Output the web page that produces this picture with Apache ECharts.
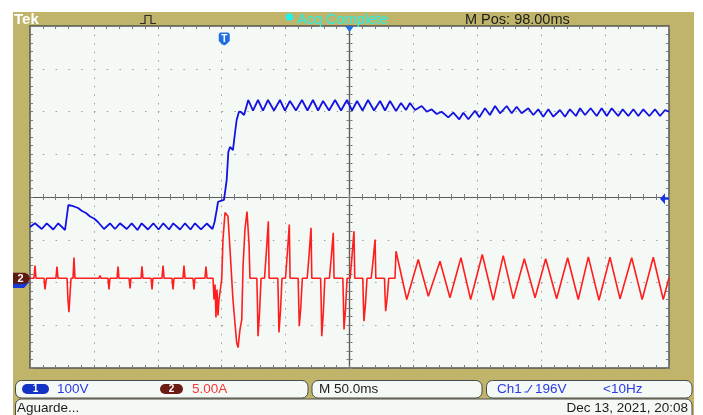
<!DOCTYPE html>
<html>
<head>
<meta charset="utf-8">
<script src="https://cdn.jsdelivr.net/npm/echarts@6/dist/echarts.min.js"></script>
<style>
  html, body { margin: 0; padding: 0; background: #fff; }
  #scope { width: 703px; height: 415px; }
</style>
</head>
<body>
<div id="scope"></div>
<script>
// ---- Acquisition settings ----
const msPerDiv = 50;             // M 50.0ms
const screenMs = [0, 500];       // 10 divisions across
const ch1VoltsPerDiv = 100;      // Ch1 100V
const ch2AmpsPerDiv = 5;         // Ch2 5.00A
const ch1GroundDiv = -2.0;       // ground reference of Ch1 (divisions from centre)
const ch2GroundDiv = -1.9;       // ground reference of Ch2
const triggerTime = 152;         // ms from left edge (M Pos 98.00ms before centre)
const triggerLevel = 196;        // V on Ch1

// ---- Ch1: voltage, [ms, V] ----
const ch1Trace = [
  [0,129.8],[3.9,138.5],[9.2,125.1],[13.1,138.5],[18.2,124.0],[22.1,138.5],[27.4,122.8],
  [30.0,181.3],[31.3,183.6],[34.4,177.8],[37.6,174.3],[40.7,167.3],[43.8,162.6],[47.0,154.4],
  [50.1,149.7],[53.2,141.5],[57.9,125.1],[62.6,138.5],[66.5,125.1],[70.4,138.5],[75.7,125.1],
  [79.6,138.5],[84.1,122.8],[87.4,138.5],[92.3,124.0],[96.5,138.5],[100.6,124.0],[104.3,138.5],
  [108.8,124.0],[112.1,138.5],[117.4,124.0],[121.3,138.5],[125.6,124.0],[129.1,138.5],
  [133.8,124.0],[138.3,138.0],[142.8,125.1],[144.4,141.5],[146.1,169.6],[147.1,188.3],
  [148.7,190.6],[151.8,193.0],[153.9,239.8],[155.2,305.3],[156.5,317.0],[158.8,309.9],
  [160.4,349.7],[161.7,380.1],[163.5,399.5],[165.1,398.8],[167.5,391.8],[170.8,426.9],
  [174.5,402.3],[178.4,426.9],[182.3,402.3],[186.2,426.9],[190.9,402.3],[195.6,426.9],
  [199.5,402.3],[203.4,424.6],[208.1,402.3],[212.8,426.9],[217.1,402.3],[221.4,426.9],
  [225.4,402.3],[229.3,424.6],[234.0,402.3],[238.7,426.9],[243.4,402.3],[248.0,426.9],
  [252.0,402.3],[255.9,424.6],[260.2,402.3],[264.5,426.9],[269.2,402.3],[273.9,424.6],
  [277.8,402.3],[281.7,424.6],[286.4,401.2],[290.3,419.9],[294.2,403.5],[297.3,419.9],
  [301.3,403.5],[306.5,412.9],[310.4,399.5],[314.3,405.1],[318.2,394.2],[322.1,399.5],
  [327.3,386.4],[331.2,397.2],[335.9,381.8],[339.1,397.2],[343.0,381.8],[348.2,401.9],
  [351.6,386.4],[356.0,407.5],[359.9,391.8],[363.9,412.9],[367.8,395.8],[373.0,412.9],
  [376.9,395.8],[380.8,411.2],[384.7,395.8],[389.9,407.5],[393.8,391.8],[397.7,405.1],
  [401.6,387.8],[405.6,405.1],[409.5,387.8],[414.7,403.5],[418.6,387.8],[422.5,405.1],
  [427.2,389.5],[430.4,407.5],[434.3,391.8],[438.7,407.5],[443.4,389.5],[447.3,407.5],
  [451.3,389.5],[455.2,407.5],[460.3,389.5],[463.8,405.1],[468.2,389.5],[472.1,405.1],
  [476.0,389.5],[479.9,405.1],[484.6,389.5],[489.0,405.1],[493.0,389.5],[496.9,403.5],
  [500,399.5]
];

// ---- Ch2: current, [ms, A] ----
const ch2Trace = [
  [0,0],[3.1,0],[3.9,1.49],[4.7,0],[11.0,0],[11.7,-1.32],[12.9,0],[20.3,0],[21.1,1.37],[21.9,0],
  [29.0,0],[29.7,-2.49],[30.5,-3.98],[31.3,-1.91],[32.1,0],[33.7,0],[34.4,2.42],[35.2,0],
  [54.0,0],[54.8,0.32],[55.6,0],[61.0,0],[61.8,-1.32],[62.6,0],[68.1,0],[68.9,1.37],[69.6,0],
  [77.5,0],[78.3,-1.20],[79.0,0],[86.9,0],[87.6,1.40],[88.4,0],[94.7,0],[95.5,-1.32],[96.2,0],
  [103.3,0],[104.1,1.49],[104.9,0],[111.1,0],[111.9,-1.32],[112.7,0],[119.7,0],[120.5,1.49],
  [121.3,0],[127.5,0],[128.3,-1.32],[129.1,0],[136.9,0],[137.7,1.37],[138.5,0],[143.2,0],
  [144.0,-2.49],[144.8,-0.74],[145.5,-4.60],[146.3,-1.32],[147.1,-4.36],[147.9,-2.49],
  [150.0,-0.15],[151.0,4.53],[152.6,7.68],[154.9,7.25],[156.5,3.36],[158.8,-2.49],
  [161.7,-7.52],[162.8,-8.11],[164.3,-6.00],[165.7,-4.83],[166.7,1.40],[168.2,5.70],
  [169.8,7.80],[170.6,7.84],[171.4,3.94],[172.1,0],
  [177.5,0],[177.9,-2.5],[178.4,-6.78],[179.6,-4.1],[180.8,0],
  [183.5,0],[184.9,3.0],[186.5,6.67],[187.1,0],
  [193.9,0],[194.3,-2.5],[194.8,-6.35],[196.0,-3.8],[197.2,0],
  [199.9,0],[201.3,2.8],[202.9,6.28],[203.5,0],
  [209.8,0],[210.2,-2.5],[210.7,-5.61],[211.9,-3.4],[213.1,0],
  [216.9,0],[218.3,2.6],[219.9,5.89],[220.5,0],
  [227.4,0],[227.8,-2.5],[228.3,-6.78],[229.5,-4.1],[230.7,0],
  [234.3,0],[235.7,2.4],[237.3,5.31],[237.9,0],
  [244.8,0],[245.2,-2.5],[245.7,-6.00],[246.9,-3.6],[248.1,0],
  [250.5,0],[251.9,2.5],[253.5,5.50],[254.1,0],
  [260.4,0],[260.8,-2.5],[261.3,-5.03],[262.5,-3.0],[263.7,0],
  [267.0,0],[268.4,2.0],[270.0,4.53],[270.6,0],
  [277.4,0],[277.8,-2.0],[278.3,-3.86],[279.5,-2.3],[280.7,0],
  [285.6,0],[286.4,3.16],[294.8,-2.49],[303.8,2.19],[311.7,-2.11],[320.8,1.99],[328.6,-2.29],
  [337.2,2.39],[344.8,-2.49],[353.9,2.77],[362.5,-2.57],[370.3,2.65],[378.2,-2.41],
  [386.8,2.27],[395.2,-2.29],[403.5,2.27],[412.1,-2.41],[420.7,2.39],[429.0,-2.49],
  [436.9,2.50],[445.2,-2.57],[453.8,2.46],[461.7,-2.41],[470.8,2.39],[479.0,-2.49],
  [487.7,2.46],[495.5,-2.49],[500,0.05]
];

// ---- Readout texts ----
const readouts = {
  brand: 'Tek', acq: 'Acq Complete', mpos: 'M Pos: 98.00ms',
  ch1Scale: '100V', ch2Scale: '5.00A', timebase: 'M 50.0ms',
  trigSource: 'Ch1', trigLevel: '196V', trigFreq: '<10Hz',
  status: 'Aguarde...', stamp: 'Dec 13, 2021, 20:08'
};

const FONT = '"Liberation Sans", Arial, sans-serif';
const OLIVE = '#bfb46a';
const SCREEN = '#f5f9f5';
const CH1_COLOR = '#1212e2';
const CH2_COLOR = '#ff1e1e';

const plot = { left: 30, top: 26, width: 639, height: 342 };
const hDiv = 10, vDiv = 8;
const dotX = plot.width / (hDiv * 5);   // spacing of graticule dots along rows
const dotY = plot.height / (vDiv * 5);  // spacing of graticule dots along columns

const chart = echarts.init(document.getElementById('scope'), null, { renderer: 'canvas' });

const grids = [0, 1, 2, 3].map(() => Object.assign({}, plot));
Object.assign(grids[0], { show: true, backgroundColor: SCREEN, borderWidth: 0 });

const tickStyle = { color: '#7d7d7d', width: 1 };
const edgeLine = { show: true, onZero: false, lineStyle: { color: '#565656', width: 1.5 } };
const centreLine = { show: true, onZero: true, lineStyle: { color: '#5a5a5a', width: 1.2 } };

function gratAxis(gridIndex, range, position, line, inside, split, splitDash) {
  return {
    gridIndex, type: 'value', min: -range, max: range, interval: 1, position,
    axisLine: line,
    axisTick: { show: true, inside, length: 3, lineStyle: tickStyle },
    minorTick: { show: true, splitNumber: 5, length: 3, lineStyle: tickStyle },
    axisLabel: { show: false },
    splitLine: { show: split, lineStyle: { color: '#9d9d9d', width: 1, type: splitDash || 'solid' } },
    minorSplitLine: { show: false }
  };
}

const option = {
  backgroundColor: OLIVE,
  animation: false,
  grid: grids,
  xAxis: [
    gratAxis(0, hDiv / 2, 'bottom', edgeLine, true, true, [1.5, dotY - 1.5]),
    gratAxis(0, hDiv / 2, 'top', edgeLine, true, false),
    gratAxis(1, hDiv / 2, 'bottom', centreLine, true, false),
    gratAxis(2, hDiv / 2, 'bottom', centreLine, false, false),
    { gridIndex: 3, type: 'value', min: screenMs[0], max: screenMs[1], interval: msPerDiv, show: false }
  ],
  yAxis: [
    gratAxis(0, vDiv / 2, 'left', edgeLine, true, true, [1.5, dotX - 1.5]),
    gratAxis(0, vDiv / 2, 'right', edgeLine, true, false),
    gratAxis(1, vDiv / 2, 'left', centreLine, true, false),
    gratAxis(2, vDiv / 2, 'left', centreLine, false, false),
    { gridIndex: 3, type: 'value', show: false,
      min: (-vDiv / 2 - ch1GroundDiv) * ch1VoltsPerDiv, max: (vDiv / 2 - ch1GroundDiv) * ch1VoltsPerDiv },
    { gridIndex: 3, type: 'value', show: false, position: 'right',
      min: (-vDiv / 2 - ch2GroundDiv) * ch2AmpsPerDiv, max: (vDiv / 2 - ch2GroundDiv) * ch2AmpsPerDiv }
  ],
  series: [
    { name: 'Ch1', type: 'line', xAxisIndex: 4, yAxisIndex: 4, data: ch1Trace,
      showSymbol: false, symbol: 'none', z: 3,
      lineStyle: { color: CH1_COLOR, width: 1.8 } },
    { name: 'Ch2', type: 'line', xAxisIndex: 4, yAxisIndex: 5, data: ch2Trace,
      showSymbol: false, symbol: 'none', z: 4,
      lineStyle: { color: CH2_COLOR, width: 1.6 } }
  ]
};
chart.setOption(option);

// ---- Frame, readouts and screen markers ----
const txt = (x, y, text, fill, size, extra) => ({
  type: 'text', x, y, z: 50,
  style: Object.assign({ text, fill, font: `${size}px ${FONT}`, align: 'left', verticalAlign: 'middle' }, extra || {})
});
const box = (x, y, w, h) => ({
  type: 'rect', z: 40, shape: { x, y, width: w, height: h, r: 6 },
  style: { fill: SCREEN, stroke: '#4a4a4a', lineWidth: 1 }
});
const pill = (x, y, w, h, fill, label) => ([
  { type: 'rect', z: 45, shape: { x, y, width: w, height: h, r: h / 2 }, style: { fill } },
  { type: 'text', z: 46, x: x + w / 2, y: y + h / 2,
    style: { text: label, fill: '#fff', font: `bold 10px ${FONT}`, align: 'center', verticalAlign: 'middle' } }
]);

const xMs = v => chart.convertToPixel({ xAxisIndex: 4 }, v);
const xDiv = v => chart.convertToPixel({ xAxisIndex: 0 }, v);
const yDiv = v => chart.convertToPixel({ yAxisIndex: 0 }, v);
const yCh1 = v => chart.convertToPixel({ yAxisIndex: 4 }, v);
const yCh2 = v => chart.convertToPixel({ yAxisIndex: 5 }, v);

const T0 = yDiv(vDiv / 2), R0 = xDiv(hDiv / 2), centreX = xDiv(0);
const tX = xMs(triggerTime), tY = yCh1(triggerLevel);
const g1 = yCh1(0), g2 = yCh2(0);

const elements = [
  // white paper around the bezel
  { type: 'rect', z: 30, shape: { x: 0, y: 0, width: 703, height: 12 }, style: { fill: '#fff' } },
  { type: 'rect', z: 30, shape: { x: 0, y: 0, width: 13, height: 415 }, style: { fill: '#fff' } },
  { type: 'rect', z: 30, shape: { x: 694, y: 0, width: 9, height: 415 }, style: { fill: '#fff' } },

  // top status line
  txt(14, 19.5, readouts.brand, '#ffffff', 15, { font: `bold 15px ${FONT}` }),
  { type: 'polyline', z: 50, shape: { points: [[140, 23.5], [145, 23.5], [145, 15.5], [151, 15.5], [151, 23.5], [156, 23.5]] },
    style: { stroke: '#2b2b2b', lineWidth: 1.2, fill: null } },
  { type: 'circle', z: 50, shape: { cx: 289.5, cy: 17, r: 3.8 }, style: { fill: '#22f2ea' } },
  txt(297, 20.3, readouts.acq, '#22f2ea', 14.5),
  txt(465, 20.3, readouts.mpos, '#1c1c1c', 14.5),

  // bottom readouts
  box(15.5, 380.5, 292.5, 17.5),
  box(312, 380.5, 170, 17.5),
  box(486.5, 380.5, 205.5, 17.5),
  box(15.5, 399, 676.5, 22),
  ...pill(22, 384, 27, 10, '#1433c4', '1'),
  txt(57, 389.3, readouts.ch1Scale, '#2a3be6', 13.5),
  ...pill(160, 384, 23, 10, '#6b1d14', '2'),
  txt(192, 389.3, readouts.ch2Scale, '#f03a3a', 13.5),
  txt(319, 389.3, readouts.timebase, '#1c1c1c', 13.5),
  txt(497, 389.3, readouts.trigSource, '#2a3be6', 13.5),
  { type: 'polyline', z: 50, shape: { points: [[524.5, 392], [527.5, 392], [532, 385]] },
    style: { stroke: '#2a3be6', lineWidth: 1.1, fill: null } },
  txt(535, 389.3, readouts.trigLevel, '#2a3be6', 13.5),
  txt(603, 389.3, readouts.trigFreq, '#2a3be6', 13.5),
  txt(17, 408.5, readouts.status, '#1c1c1c', 13.5),
  txt(688, 407.8, readouts.stamp, '#1c1c1c', 13.5, { align: 'right' }),

  // horizontal position marker at screen centre
  { type: 'polygon', z: 60, shape: { points: [[centreX - 4.5, T0], [centreX + 4.5, T0], [centreX, T0 + 6]] },
    style: { fill: '#1f72e6' } },
  // trigger position marker
  { type: 'polygon', z: 60,
    shape: { points: [[tX - 5.5, T0 + 8], [tX - 4, T0 + 6.5], [tX + 4, T0 + 6.5], [tX + 5.5, T0 + 8],
                      [tX + 5.5, T0 + 15], [tX + 2.5, T0 + 18], [tX, T0 + 19.5], [tX - 2.5, T0 + 18], [tX - 5.5, T0 + 15]] },
    style: { fill: '#1f6fe3' } },
  { type: 'text', z: 61, x: tX, y: T0 + 12.8,
    style: { text: 'T', fill: '#fff', font: `bold 10px ${FONT}`, align: 'center', verticalAlign: 'middle' } },
  // trigger level marker
  { type: 'polygon', z: 60, shape: { points: [[R0 - 9, tY], [R0 - 4, tY - 5.5], [R0 - 4, tY + 5.5]] },
    style: { fill: '#1634ee' } },
  { type: 'rect', z: 60, shape: { x: R0 - 4.5, y: tY - 1, width: 4.5, height: 2 }, style: { fill: '#1634ee' } },
  // channel ground markers
  { type: 'polygon', z: 60,
    shape: { points: [[13, g1 - 5.5], [24, g1 - 5.5], [29, g1], [24, g1 + 5.5], [13, g1 + 5.5]] },
    style: { fill: '#1838d8' } },
  { type: 'polygon', z: 61,
    shape: { points: [[13, g2 - 5.5], [25, g2 - 5.5], [28, g2 - 4], [30, g2], [28, g2 + 4], [25, g2 + 5.5], [13, g2 + 5.5]] },
    style: { fill: '#5e1a12' } },
  { type: 'text', z: 62, x: 20.5, y: g2 + 0.5,
    style: { text: '2', fill: '#fff', font: `bold 11px ${FONT}`, align: 'center', verticalAlign: 'middle' } }
];

chart.setOption({ graphic: { elements } });
</script>
</body>
</html>
